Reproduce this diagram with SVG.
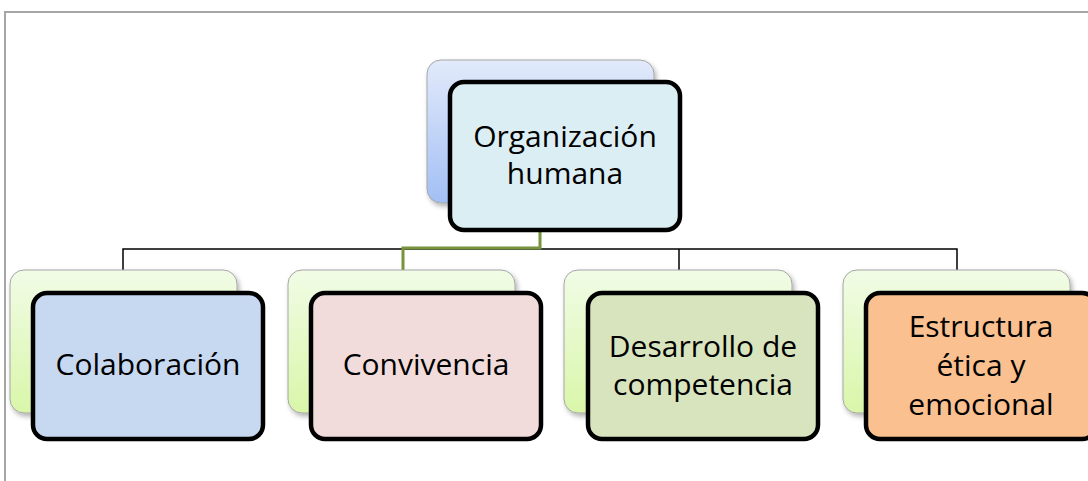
<svg xmlns="http://www.w3.org/2000/svg" width="1088" height="481" viewBox="0 0 1088 481">
<defs>
<linearGradient id="gBlue" x1="0" y1="0" x2="0" y2="1">
<stop offset="0" stop-color="#e2eafb"/>
<stop offset="1" stop-color="#a2bff4"/>
</linearGradient>
<linearGradient id="gGreen" x1="0" y1="0" x2="0" y2="1">
<stop offset="0" stop-color="#f1fce6"/>
<stop offset="1" stop-color="#d9f6a9"/>
</linearGradient>
<filter id="sh" x="-10%" y="-10%" width="125%" height="130%">
<feDropShadow dx="2" dy="3" stdDeviation="2.5" flood-color="#000" flood-opacity="0.3"/>
</filter>
</defs>
<style>
.back{stroke:#a6a6a6;stroke-width:1;filter:url(#sh)}
.front{stroke:#000;stroke-width:4.5}
.lbl{font-family:"Open Sans","Noto Sans",sans-serif;font-size:30px;fill:#000;text-anchor:middle}
.con{fill:none;stroke:#000;stroke-width:1.5}
</style>
<rect width="1088" height="481" fill="#fff"/>
<g id="frame">
<line x1="4" y1="12" x2="1088" y2="12" stroke="#a6a6a6" stroke-width="2"/>
<line x1="5" y1="11" x2="5" y2="481" stroke="#a6a6a6" stroke-width="2"/>
</g>
<g id="connectors">
<polyline class="con" points="123,270 123,249 957,249 957,270"/>
<line class="con" x1="679" y1="249" x2="679" y2="270"/>
<polyline fill="none" stroke="#77933c" stroke-width="3" points="540,203 540,248 403,248 403,270"/>
</g>
<g id="node-organizacion">
<rect class="back" x="427" y="60" width="227" height="143" rx="14" fill="url(#gBlue)"/>
<rect class="front" x="450" y="82" width="230" height="148" rx="14" fill="#dbeef3"/>
<text class="lbl" x="565" y="147">Organización</text>
<text class="lbl" x="565" y="184">humana</text>
</g>
<g id="node-colaboracion">
<rect class="back" x="10" y="270" width="227" height="143" rx="14" fill="url(#gGreen)"/>
<rect class="front" x="33" y="293" width="230" height="146" rx="14" fill="#c6d9f1"/>
<text class="lbl" x="148" y="375">Colaboración</text>
</g>
<g id="node-convivencia">
<rect class="back" x="288" y="270" width="227" height="143" rx="14" fill="url(#gGreen)"/>
<rect class="front" x="311" y="293" width="230" height="146" rx="14" fill="#f2dcdb"/>
<text class="lbl" x="426" y="375">Convivencia</text>
</g>
<g id="node-desarrollo">
<rect class="back" x="564" y="270" width="228" height="143" rx="14" fill="url(#gGreen)"/>
<rect class="front" x="588" y="293" width="230" height="146" rx="14" fill="#d7e4bd"/>
<text class="lbl" x="703" y="357">Desarrollo de</text>
<text class="lbl" x="703" y="395">competencia</text>
</g>
<g id="node-estructura">
<rect class="back" x="843" y="270" width="227" height="143" rx="14" fill="url(#gGreen)"/>
<rect class="front" x="866" y="293" width="230" height="146" rx="14" fill="#fac090"/>
<text class="lbl" x="981" y="337">Estructura</text>
<text class="lbl" x="981" y="376">ética y</text>
<text class="lbl" x="981" y="415">emocional</text>
</g>
</svg>
